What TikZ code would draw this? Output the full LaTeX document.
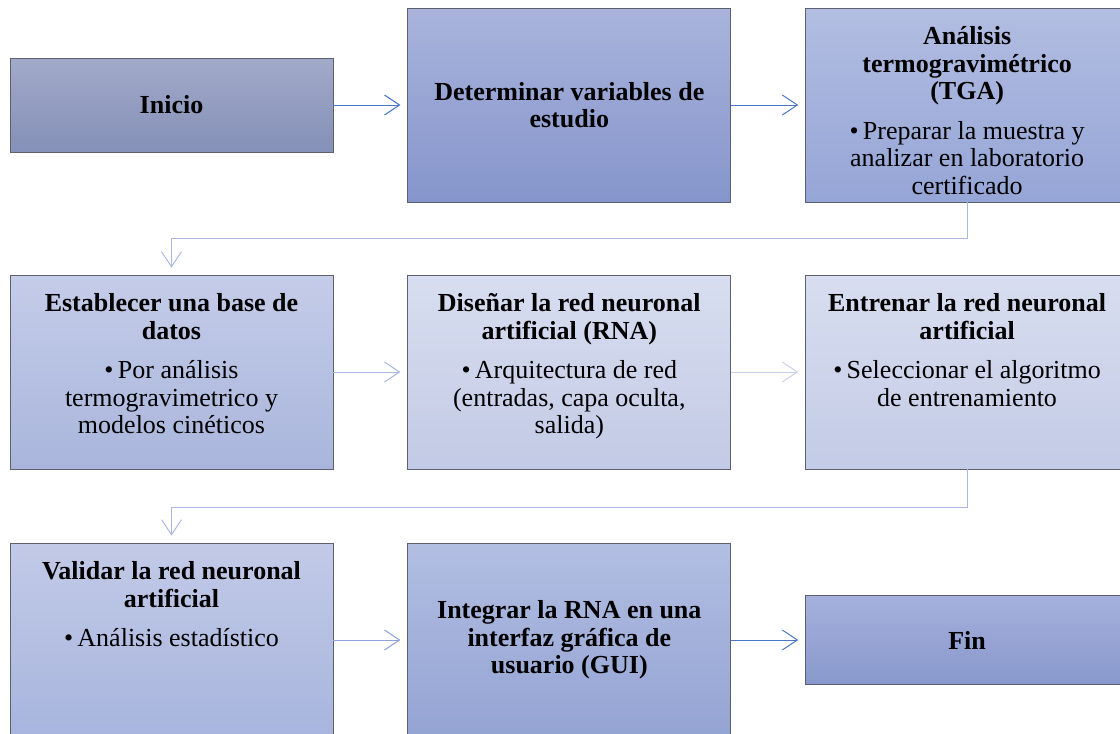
\documentclass[tikz,border=0pt]{standalone}
\usepackage{fontspec}
\setmainfont{Liberation Serif}
\usetikzlibrary{positioning,arrows.meta}

\definecolor{edgegray}{HTML}{5E6070}
\definecolor{linkdark}{HTML}{4A74C6}
\definecolor{linkmid}{HTML}{8EA3DC}
\definecolor{linklight}{HTML}{A9B8E0}
\definecolor{linkpale}{HTML}{C5D0EC}
% box fills, top and bottom
\definecolor{inicioT}{HTML}{A2AAC9}\definecolor{inicioB}{HTML}{8590B8}
\definecolor{variablesT}{HTML}{A9B3DC}\definecolor{variablesB}{HTML}{8595CB}
\definecolor{tgaT}{HTML}{B2BDE1}\definecolor{tgaB}{HTML}{95A5D6}
\definecolor{baseT}{HTML}{C4CCE8}\definecolor{baseB}{HTML}{A9B5DC}
\definecolor{disenoT}{HTML}{D8DEF0}\definecolor{disenoB}{HTML}{C2CAE5}
\definecolor{entrenaT}{HTML}{D8DEF0}\definecolor{entrenaB}{HTML}{C3CBE6}
\definecolor{validaT}{HTML}{C2CAE7}\definecolor{validaB}{HTML}{A7B4DD}
\definecolor{integraT}{HTML}{B2BEE2}\definecolor{integraB}{HTML}{93A3D3}
\definecolor{finT}{HTML}{A5B0DC}\definecolor{finB}{HTML}{8898CC}

\newcommand{\topstrut}{\rule{0pt}{24pt}}

\begin{document}
\begin{tikzpicture}[
  x=1pt, y=1pt,
  stepbox/.style={rectangle, draw=edgegray, line width=0.8pt, minimum width=323pt, minimum height=194pt,
    inner sep=0pt, align=center, font=\bfseries\fontsize{26}{27.5}\selectfont},
  shade/.style={top color=#1T, bottom color=#1B},
  txt/.style={inner sep=0pt, align=center, font=\fontsize{26}{27.5}\selectfont},
  link/.style={line width=1pt, -{Straight Barb[length=15pt,width=20pt]}, shorten >=7pt},
  node distance=74pt
]
\useasboundingbox (0,0) rectangle (1120,-734);
\clip (0,0) rectangle (1120,-734);

% first row
\node[stepbox, minimum height=94pt, shade=inicio] (inicio) at (171.5,-105) {Inicio};
\node[stepbox, right=of inicio, shade=variables] (variables) {Determinar variables de\\estudio};
\node[stepbox, right=of variables, shade=tga] (tga) {};
\node[txt, below=13pt of tga.north] (tga-t) {\topstrut\textbf{Análisis}\\\textbf{termogravimétrico}\\\textbf{(TGA)}\\[12pt]
  \textbullet\,Preparar la muestra y\\analizar en laboratorio\\certificado};

% second row
\node[stepbox, shade=base] (base) at (171.5,-372) {};
\node[txt, below=13pt of base.north] (base-t) {\topstrut\textbf{Establecer una base de}\\\textbf{datos}\\[12pt]
  \textbullet\,Por análisis\\termogravimetrico y\\modelos cinéticos};
\node[stepbox, right=of base, shade=diseno] (diseno) {};
\node[txt, below=13pt of diseno.north] (diseno-t) {\topstrut\textbf{Diseñar la red neuronal}\\\textbf{artificial (RNA)}\\[12pt]
  \textbullet\,Arquitectura de red\\(entradas, capa oculta,\\salida)};
\node[stepbox, right=of diseno, shade=entrena] (entrena) {};
\node[txt, below=13pt of entrena.north] (entrena-t) {\topstrut\textbf{Entrenar la red neuronal}\\\textbf{artificial}\\[12pt]
  \textbullet\,Seleccionar el algoritmo\\de entrenamiento};

% third row
\node[stepbox, shade=valida] (valida) at (171.5,-640) {};
\node[txt, below=13pt of valida.north] (valida-t) {\topstrut\textbf{Validar la red neuronal}\\\textbf{artificial}\\[12pt]
  \textbullet\,Análisis estadístico};
\node[stepbox, right=of valida, shade=integra] (integra) {Integrar la RNA en una\\interfaz gráfica de\\usuario (GUI)};
\node[stepbox, minimum height=89pt, right=of integra, shade=fin] (fin) {Fin};

% connectors
\draw[link, linkdark] (inicio) -- (variables);
\draw[link, linkdark] (variables) -- (tga);
\draw[link, linklight] (tga.south) -- ++(0,-36) -| (base.north);
\draw[link, linklight] (base) -- (diseno);
\draw[link, linkpale] (diseno) -- (entrena);
\draw[link, linklight] (entrena.south) -- ++(0,-38) -| (valida.north);
\draw[link, linkmid] (valida) -- (integra);
\draw[link, linkdark] (integra) -- (fin);
\end{tikzpicture}
\end{document}
